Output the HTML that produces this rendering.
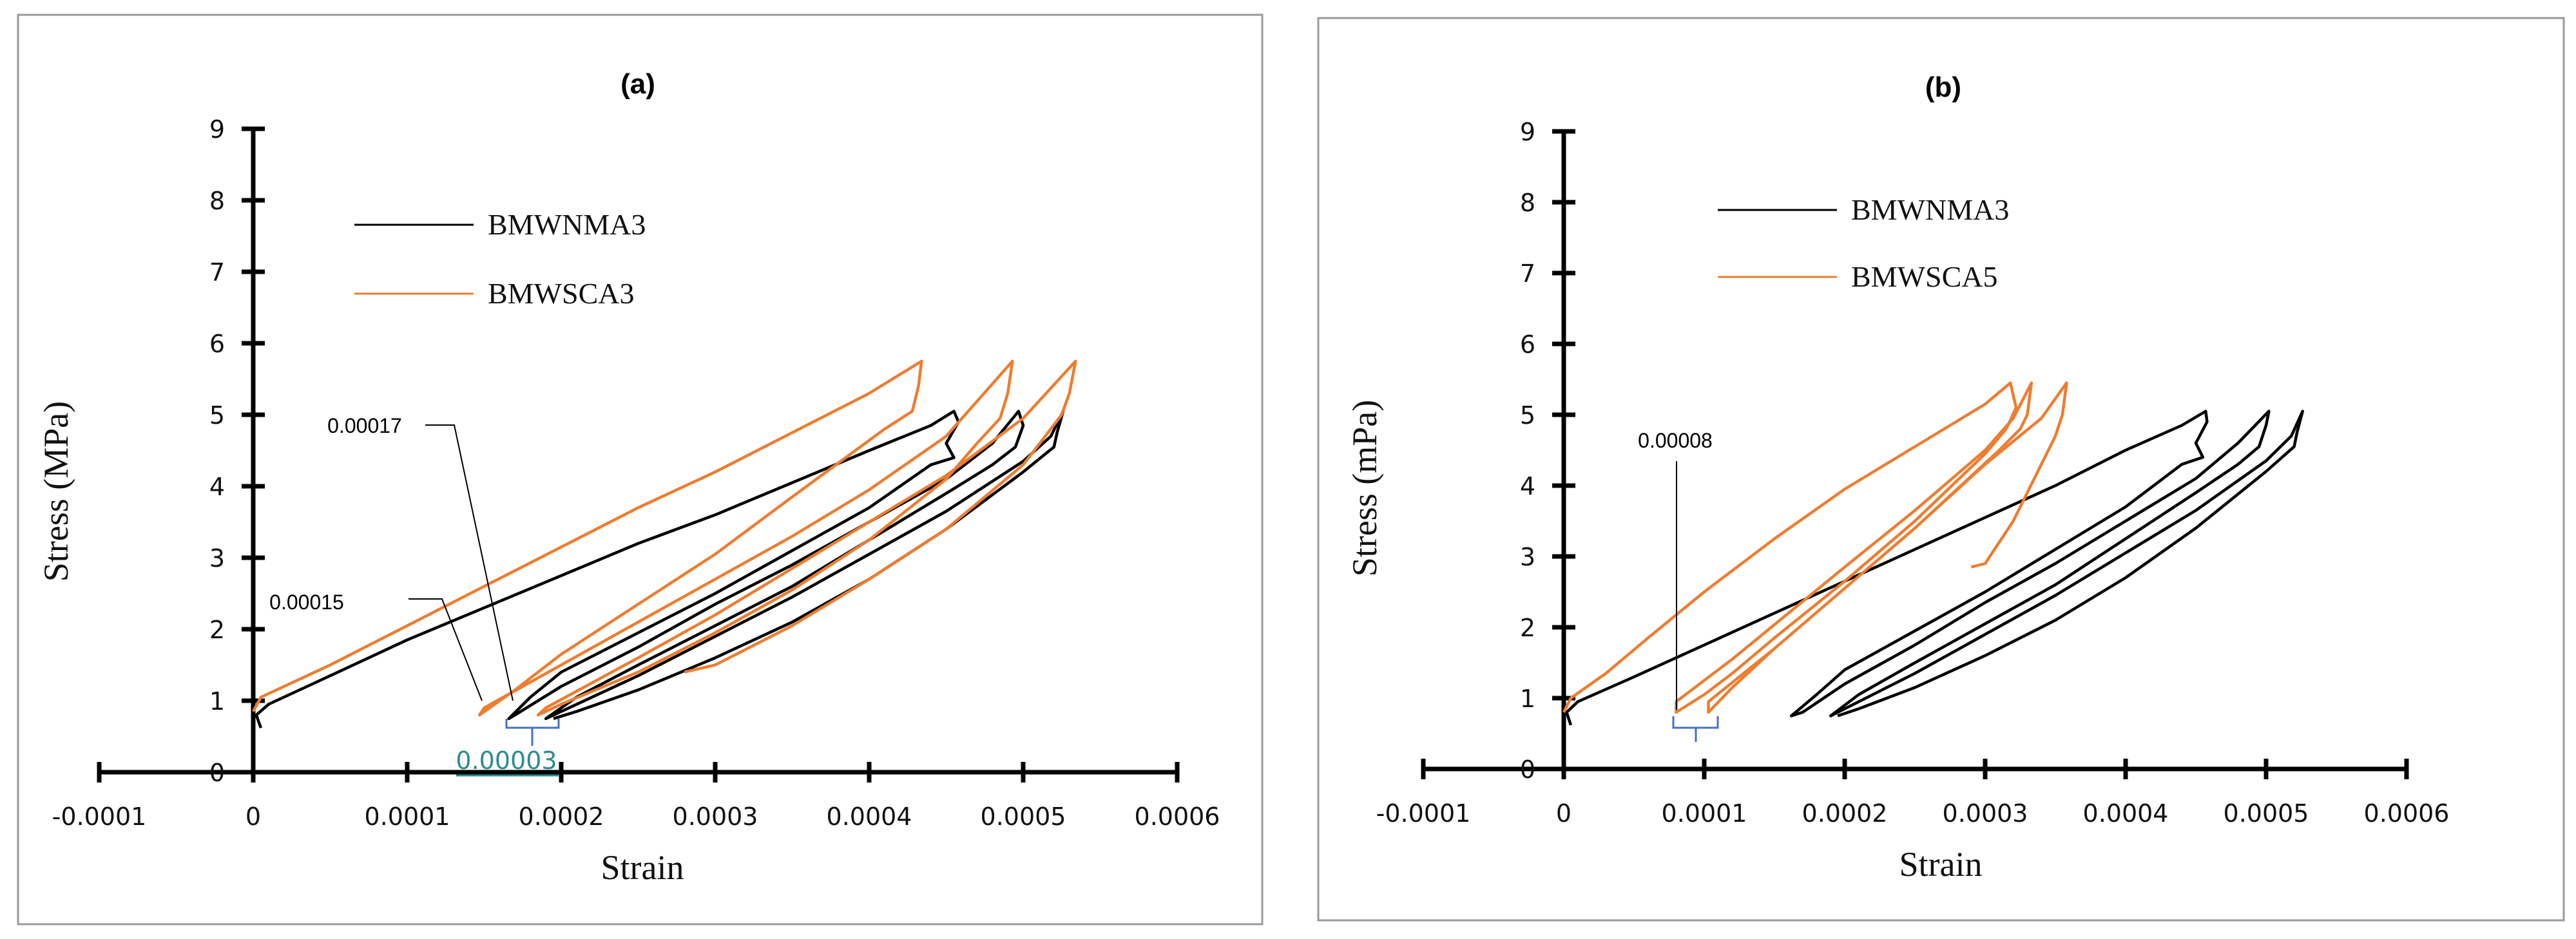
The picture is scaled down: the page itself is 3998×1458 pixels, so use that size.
<!DOCTYPE html>
<html><head><meta charset="utf-8"><style>
html,body{margin:0;padding:0;background:#fff;}
svg{display:block;}
.tk{font-family:"DejaVu Sans","Liberation Sans",sans-serif;font-size:38px;fill:#111;}
.ser{font-family:"Liberation Serif",serif;fill:#111;}
</style></head><body>
<svg id="c" width="3998" height="1458" viewBox="0 0 3998 1458" xmlns="http://www.w3.org/2000/svg">
<rect x="28" y="23" width="1931" height="1412" fill="none" stroke="#999" stroke-width="3"/>
<rect x="2046" y="28" width="1933" height="1401" fill="none" stroke="#999" stroke-width="3"/>
<g id="ga"></g>
<g id="gb"></g>
</svg>
<script>
const xTicks=[-0.0001,0,0.0001,0.0002,0.0003,0.0004,0.0005,0.0006];
const xTickLabels=["-0.0001","0","0.0001","0.0002","0.0003","0.0004","0.0005","0.0006"];
const yTicks=[0,1,2,3,4,5,6,7,8,9];
const aBlackStrain=[0.000005,0.000002,0.00001,0.00005,0.0001,0.00015,0.0002,0.00025,0.0003,0.00035,0.0004,0.00044,0.000455,0.000458,0.00045,0.000455,0.00044,0.0004,0.00035,0.0003,0.00025,0.0002,0.00018,0.000166,0.00017,0.0002,0.00025,0.0003,0.00035,0.0004,0.00045,0.00048,0.000497,0.0005,0.000495,0.00048,0.00045,0.0004,0.00035,0.0003,0.00025,0.00021,0.00019,0.0002,0.00025,0.0003,0.00035,0.0004,0.00045,0.0005,0.000518,0.000526,0.000522,0.00052,0.0005,0.00045,0.0004,0.00035,0.0003,0.00025,0.00021,0.000195];
const aBlackStress=[0.62,0.8,0.95,1.35,1.85,2.3,2.75,3.2,3.6,4.05,4.5,4.85,5.05,4.9,4.6,4.4,4.3,3.7,3.1,2.5,1.95,1.4,1.05,0.75,0.8,1.2,1.75,2.35,2.9,3.5,4.1,4.6,5.05,4.85,4.55,4.3,3.9,3.25,2.6,2.05,1.5,1.05,0.75,0.85,1.35,1.9,2.45,3.05,3.65,4.35,4.7,5.05,4.75,4.55,4.2,3.4,2.7,2.1,1.6,1.15,0.85,0.75];
const aOrangeStrain=[0,0.000005,0.00005,0.0001,0.00015,0.0002,0.00025,0.0003,0.00035,0.0004,0.000434,0.000432,0.000428,0.00041,0.00035,0.0003,0.00025,0.0002,0.00017,0.000147,0.00015,0.0002,0.00025,0.0003,0.00035,0.0004,0.00045,0.000493,0.00049,0.000485,0.00047,0.00045,0.0004,0.00035,0.0003,0.00025,0.0002,0.000185,0.00019,0.00025,0.0003,0.00035,0.0004,0.00045,0.0005,0.000534,0.00053,0.000525,0.0005,0.00045,0.0004,0.00035,0.0003,0.00028];
const aOrangeStress=[0.85,1.05,1.5,2.05,2.6,3.15,3.7,4.2,4.75,5.3,5.75,5.4,5.05,4.8,3.85,3.05,2.35,1.65,1.15,0.8,0.9,1.5,2.1,2.7,3.3,3.95,4.7,5.75,5.3,4.95,4.6,4.1,3.25,2.55,1.95,1.4,0.95,0.8,0.9,1.6,2.2,2.85,3.5,4.15,4.95,5.75,5.3,5.0,4.3,3.4,2.7,2.05,1.5,1.4];
const bBlackStrain=[0.000005,0.000002,0.00001,0.00005,0.0001,0.00015,0.0002,0.00025,0.0003,0.00035,0.0004,0.00044,0.000457,0.000458,0.00045,0.000455,0.00044,0.0004,0.00035,0.0003,0.00025,0.0002,0.00018,0.000162,0.00017,0.0002,0.00025,0.0003,0.00035,0.0004,0.00045,0.00048,0.000502,0.0005,0.000495,0.00048,0.00045,0.0004,0.00035,0.0003,0.00025,0.00021,0.00019,0.0002,0.00025,0.0003,0.00035,0.0004,0.00045,0.0005,0.000518,0.000526,0.000522,0.00052,0.0005,0.00045,0.0004,0.00035,0.0003,0.00025,0.00021,0.000195];
const bBlackStress=[0.62,0.8,0.95,1.3,1.75,2.2,2.65,3.1,3.55,4.0,4.5,4.85,5.05,4.9,4.6,4.4,4.3,3.7,3.1,2.5,1.95,1.4,1.05,0.75,0.8,1.2,1.75,2.35,2.9,3.5,4.1,4.6,5.05,4.85,4.55,4.3,3.9,3.25,2.6,2.05,1.5,1.05,0.75,0.85,1.35,1.9,2.45,3.05,3.65,4.35,4.7,5.05,4.75,4.55,4.2,3.4,2.7,2.1,1.6,1.15,0.85,0.75];
const bOrangeStrain=[0,0.000005,0.00003,0.00006,0.0001,0.00015,0.0002,0.00025,0.0003,0.000318,0.000322,0.000315,0.0003,0.00025,0.0002,0.00015,0.00012,0.0001,0.00008,0.00008,0.00012,0.00016,0.0002,0.00025,0.0003,0.00032,0.000333,0.00033,0.000325,0.00031,0.00025,0.0002,0.00015,0.00012,0.000103,0.000103,0.00015,0.0002,0.00025,0.0003,0.00034,0.000358,0.000355,0.00035,0.00034,0.00032,0.0003,0.00029];
const bOrangeStress=[0.8,1.0,1.35,1.85,2.5,3.25,3.95,4.55,5.15,5.45,5.1,4.8,4.45,3.5,2.65,1.85,1.35,1.05,0.8,0.95,1.55,2.2,2.85,3.65,4.5,4.95,5.45,5.0,4.8,4.5,3.4,2.55,1.7,1.15,0.8,0.95,1.7,2.55,3.4,4.3,4.95,5.45,5.0,4.7,4.3,3.5,2.9,2.85];

const NS="http://www.w3.org/2000/svg";
function mk(parent,tag,attrs,text){const e=document.createElementNS(NS,tag);for(const k in attrs)e.setAttribute(k,attrs[k]);if(text!==undefined)e.textContent=text;parent.appendChild(e);return e;}

function panel(g,P,title,yTitle,leg,series){
  const sx=v=>P.x0+v/0.0001*P.px;
  const sy=v=>P.y0-v*P.py;
  let e=mk(g,'line',{x1:sx(-0.0001),x2:sx(0.0006),y1:P.y0,y2:P.y0,stroke:'#000','stroke-width':7});
  
  
  e=mk(g,'line',{x1:P.x0,x2:P.x0,y1:sy(9),y2:P.y0+16,stroke:'#000','stroke-width':7});
  
  
  xTicks.forEach((t,i)=>{
    const x=sx(t);
    let l=mk(g,'line',{x1:x,x2:x,y1:P.y0-16,y2:P.y0+16,stroke:'#000','stroke-width':7});
    
    
    let tx=mk(g,'text',{x:x,y:P.y0+82,'text-anchor':'middle',class:'tk'},xTickLabels[i]);
    
    
  });
  yTicks.forEach(t=>{
    const y=sy(t);
    let l=mk(g,'line',{x1:P.x0-18,x2:P.x0+18,y1:y,y2:y,stroke:'#000','stroke-width':7});
    
    
    let tx=mk(g,'text',{x:P.x0-56,y:y+14,'text-anchor':'middle',class:'tk'},String(t));
    
    
  });
  let t=mk(g,'text',{x:P.tx,y:P.ty,'text-anchor':'middle','font-family':'Liberation Sans, sans-serif','font-weight':'bold','font-size':44},title);
  
  
  t=mk(g,'text',{x:0,y:0,'text-anchor':'middle',class:'ser','font-size':54,transform:`translate(${P.ylx},${P.yly}) rotate(-90)`},yTitle);
  
  
  t=mk(g,'text',{x:P.xlx,y:P.xly,'text-anchor':'middle',class:'ser','font-size':54},'Strain');
  
  
  series.forEach((s,i)=>{
    const pts=s.x.map((v,j)=>sx(v).toFixed(1)+','+sy(s.y[j]).toFixed(1)).join(' ');
    let p=mk(g,'polyline',{points:pts,fill:'none',stroke:s.c,'stroke-width':4.5,'stroke-linejoin':'round'});
    
    
    const ly=leg.y+i*leg.dy;
    let l=mk(g,'line',{x1:leg.x,x2:leg.x+185,y1:ly,y2:ly,stroke:s.c,'stroke-width':3});
    
    
    let lt=mk(g,'text',{x:leg.x+207,y:ly+15,class:'ser','font-size':46},s.n);
    
    
  });
}
const OR='#ED7D31';
panel(document.getElementById('ga'),{x0:393,y0:1199,px:239,py:111,tx:990,ty:145,ylx:105,yly:763,xlx:997,xly:1365},'(a)','Stress (MPa)',{x:550,y:349,dy:107},
  [{x:aBlackStrain,y:aBlackStress,c:'#000',n:'BMWNMA3'},{x:aOrangeStrain,y:aOrangeStress,c:OR,n:'BMWSCA3'}]);
panel(document.getElementById('gb'),{x0:2427,y0:1194,px:218,py:110,tx:3016,ty:150,ylx:2136,yly:758,xlx:3012,xly:1360},'(b)','Stress (mPa)',{x:2666,y:326,dy:104},
  [{x:bBlackStrain,y:bBlackStress,c:'#000',n:'BMWNMA3'},{x:bOrangeStrain,y:bOrangeStress,c:OR,n:'BMWSCA5'}]);

const ga=document.getElementById('ga'), gb=document.getElementById('gb');
let a=mk(ga,'text',{x:566,y:672,'text-anchor':'middle','font-family':'Liberation Sans, sans-serif','font-size':32},'0.00017');


a=mk(ga,'polyline',{points:'660,660 705,660 796,1088',fill:'none',stroke:'#000','stroke-width':2});


a=mk(ga,'text',{x:476,y:946,'text-anchor':'middle','font-family':'Liberation Sans, sans-serif','font-size':32},'0.00015');


a=mk(ga,'polyline',{points:'634,930 686,930 748,1088',fill:'none',stroke:'#000','stroke-width':2});


a=mk(ga,'path',{d:'M786,1116 V1130 H867 V1116 M826,1130 V1158',fill:'none',stroke:'#4472C4','stroke-width':3});


a=mk(ga,'text',{x:786,y:1194,'text-anchor':'middle','font-family':'DejaVu Sans, sans-serif','font-size':38,fill:'#2E8B8B'},'0.00003');


a=mk(ga,'line',{x1:708,x2:867,y1:1204,y2:1204,stroke:'#2E8B8B','stroke-width':3});


a=mk(gb,'text',{x:2600,y:695,'text-anchor':'middle','font-family':'Liberation Sans, sans-serif','font-size':32},'0.00008');


a=mk(gb,'line',{x1:2602,x2:2602,y1:716,y2:1102,stroke:'#000','stroke-width':2});


a=mk(gb,'path',{d:'M2597,1112 V1130 H2666 V1112 M2632,1130 V1152',fill:'none',stroke:'#4472C4','stroke-width':3});


</script>
</body></html>
